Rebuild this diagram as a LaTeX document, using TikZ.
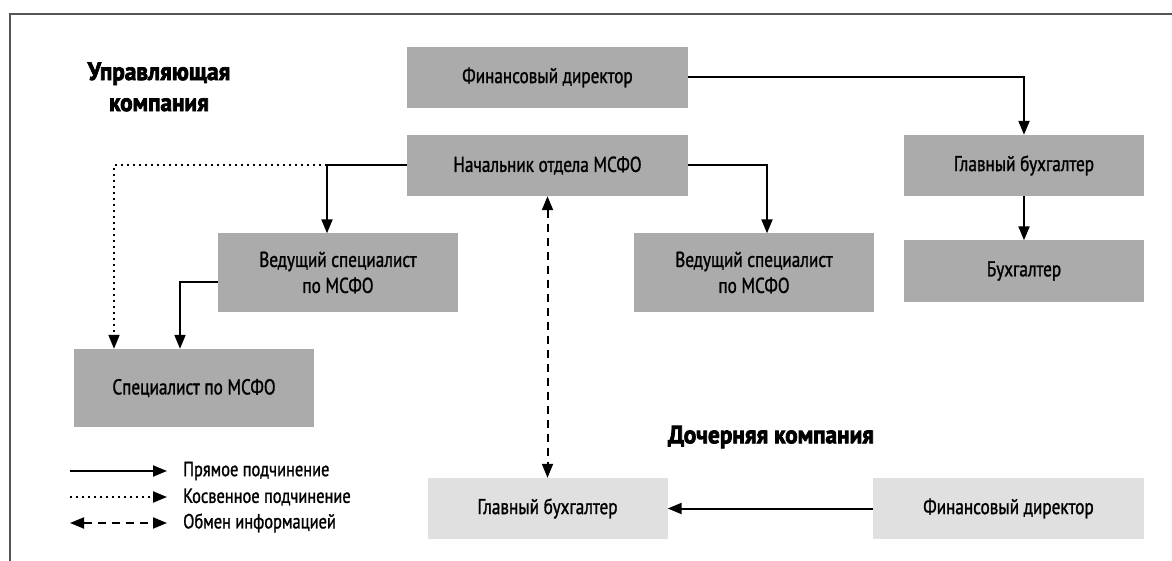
\documentclass[tikz,border=0pt]{standalone}
\usepackage{fontspec}
\setmainfont[FakeStretch=0.8,FakeBold=1.2]{PT Sans}
\newfontfamily\headfont[FakeStretch=0.93,BoldFeatures={FakeBold=3}]{PT Sans}
\usetikzlibrary{arrows.meta}
\definecolor{boxgray}{HTML}{ABABAB}
\definecolor{subgray}{HTML}{E0E0E0}
\definecolor{framegray}{HTML}{555555}
\begin{document}
\begin{tikzpicture}[x=1pt, y=-1pt, font=\fontsize{21.5}{26}\selectfont, line join=miter, >={Triangle[length=14pt,width=11pt]},
 box/.style={fill=boxgray, inner sep=0pt, align=center, minimum width=240pt, minimum height=61pt},
 tallbox/.style={box, minimum height=78pt},
 subbox/.style={box, fill=subgray},
 direct/.style={line width=2pt, ->},
 indirect/.style={line width=2pt, dash pattern=on 2pt off 4pt, ->},
 exchange/.style={line width=2pt, dash pattern=on 8pt off 6pt, <->},
 heading/.style={font=\headfont\bfseries\fontsize{25}{31}\selectfont, align=center},
 legtext/.style={font=\fontsize{20.5}{24}\selectfont, anchor=west, inner sep=0pt}]
 \useasboundingbox (0,0) rectangle (1172,561);
 \draw[framegray, line width=1.5pt] (10,561) -- (10,14) -- (1172,14);
 % управляющая компания
 \node[heading] (uk) at (159,87) {Управляющая\\компания};
 \node[box, minimum width=281pt] (fin) at (547.5,77.5) {Финансовый директор};
 \node[box, minimum width=281pt] (head) at (547.5,165.5) {Начальник отдела МСФО};
 \node[box] (gb) at (1024,165.5) {Главный бухгалтер};
 \node[box] (buh) at (1024,271) {Бухгалтер};
 \node[tallbox] (vedl) at (338,272.5) {Ведущий специалист\\по МСФО};
 \node[tallbox] (vedr) at (754,272.5) {Ведущий специалист\\по МСФО};
 \node[tallbox] (spec) at (194,388) {Специалист по МСФО};
 % дочерняя компания
 \node[heading] (dk) at (771,437) {Дочерняя компания};
 \node[subbox] (sgb) at (547.5,508.5) {Главный бухгалтер};
 \node[subbox, minimum width=271pt] (sfd) at (1008.5,508.5) {Финансовый директор};
 % связи
 \coordinate (c1) at (327,165.5);
 \coordinate (c2) at (114,165.5);
 \coordinate (c3) at (767,165.5);
 \coordinate (c4) at (180,282);
 \draw[direct] (fin.east) -| (gb.north);
 \draw[direct] (gb.south) -- (buh.north);
 \draw[direct] (head.west) -- (c1) -- (c1 |- vedl.north);
 \draw[indirect] (c1) -- (c2) -- (c2 |- spec.north);
 \draw[direct] (head.east) -- (c3) -- (c3 |- vedr.north);
 \draw[direct] (vedl.west |- c4) -- (c4) -- (c4 |- spec.north);
 \draw[exchange] (head.south) -- (sgb.north);
 \draw[direct] (sfd.west) -- (sgb.east);
 % легенда
 \node[legtext] (t1) at (183,471) {Прямое подчинение};
 \node[legtext] (t2) at (183,497) {Косвенное подчинение};
 \node[legtext] (t3) at (183,523) {Обмен информацией};
 \coordinate (s1) at (70,471);
 \coordinate (s2) at (70,497);
 \coordinate (s3) at (70,523);
 \draw[direct] (s1) -- ([xshift=-16pt]t1.west);
 \draw[indirect] (s2) -- ([xshift=-16pt]t2.west);
 \draw[exchange] (s3) -- ([xshift=-16pt]t3.west);
\end{tikzpicture}
\end{document}
